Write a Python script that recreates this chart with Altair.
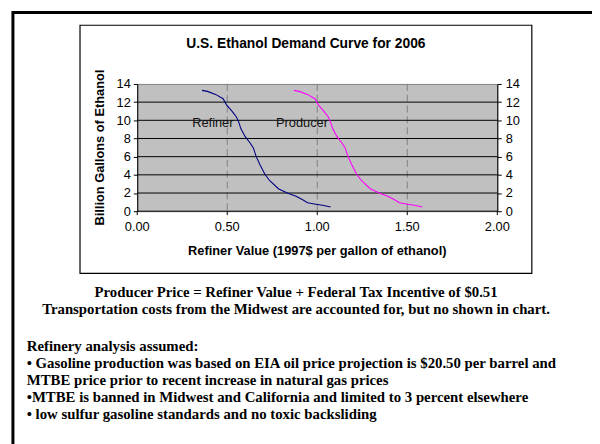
import altair as alt
import pandas as pd

# ---------------- data ----------------
refiner_x = [0.36, 0.39, 0.435, 0.477, 0.495, 0.526, 0.55, 0.563, 0.576, 0.599, 0.627, 0.645,
             0.66, 0.681, 0.709, 0.736, 0.786, 0.837, 0.882, 0.919, 0.946, 0.992, 1.029, 1.074]
refiner_y = [13.29, 13.18, 12.85, 12.38, 11.73, 11.0, 10.4, 9.86, 9.06, 8.23, 7.5, 6.96,
             6.06, 5.15, 4.07, 3.35, 2.45, 1.98, 1.65, 1.26, 0.94, 0.76, 0.65, 0.47]
producer_x = [0.87, 0.90, 0.945, 0.987, 1.005, 1.036, 1.06, 1.073, 1.086, 1.109, 1.137, 1.155,
              1.17, 1.191, 1.219, 1.246, 1.296, 1.347, 1.392, 1.429, 1.456, 1.502, 1.539, 1.584]
producer_y = [13.29, 13.18, 12.85, 12.38, 11.73, 11.0, 10.4, 9.86, 9.06, 8.23, 7.5, 6.96,
              6.06, 5.15, 4.07, 3.35, 2.45, 1.98, 1.65, 1.26, 0.94, 0.76, 0.65, 0.47]

series_names = ["Refiner", "Producer"]
series_colors = ["#000080", "#ff00ff"]
label_x = [0.42, 0.915]
label_y = [9.75, 9.75]

x_ticks = [0.0, 0.5, 1.0, 1.5, 2.0]
y_ticks = [0, 2, 4, 6, 8, 10, 12, 14]
x_grid = [0.5, 1.0, 1.5]
y_grid = [2, 4, 6, 8, 10, 12]

chart_title = "U.S. Ethanol Demand Curve for 2006"
y_title = "Billion Gallons of Ethanol"
x_title = "Refiner Value (1997$ per gallon of ethanol)"
note_center = [
    "Producer Price = Refiner Value + Federal Tax Incentive of $0.51",
    "Transportation costs from the Midwest are accounted for, but no shown in chart.",
]
note_left = [
    "Refinery analysis assumed:",
    "\u2022 Gasoline production was based on EIA oil price projection is $20.50 per barrel and",
    "MTBE price prior to recent increase in natural gas prices",
    "\u2022MTBE is banned in Midwest and California and limited to 3 percent elsewhere",
    "\u2022 low sulfur gasoline standards and no toxic backsliding",
]

# ---------------- build ----------------
SANS = "Liberation Sans"
SERIF = "Liberation Serif"
W, H = 365, 129

lines_df = pd.DataFrame({
    "series": [series_names[0]] * len(refiner_x) + [series_names[1]] * len(producer_x),
    "x": refiner_x + producer_x,
    "y": refiner_y + producer_y,
    "order": list(range(len(refiner_x))) + list(range(len(producer_x))),
})
labels_df = pd.DataFrame({"name": series_names, "x": label_x, "y": label_y})
xgrid_df = pd.DataFrame({"g": x_grid})
ygrid_df = pd.DataFrame({"g": y_grid})
xtick_df = pd.DataFrame({"t": x_ticks})
one = pd.DataFrame({"k": [0]})

xscale = alt.Scale(domain=[0, 2], nice=False, zero=False)
yscale = alt.Scale(domain=[0, 14], nice=False)

axis_style = dict(labelFont=SANS, labelFontSize=13, labelColor="black",
                  tickColor="black", domainColor="black", domainWidth=1, tickWidth=1,
                  tickSize=4, title=None, grid=False, values=y_ticks)
y_axis_left = alt.Axis(orient="left", labelPadding=3, **axis_style)
y_axis_right = alt.Axis(orient="right", labelPadding=4, **axis_style)

vgrid = alt.Chart(xgrid_df).mark_rule(color="#808080", strokeDash=[7, 4], strokeWidth=1).encode(
    x=alt.X("g:Q", scale=xscale, axis=None)
)
hgrid = alt.Chart(ygrid_df).mark_rule(color="black", strokeWidth=1).encode(
    y=alt.Y("g:Q", scale=yscale, axis=None)
)

lines = alt.Chart(lines_df).mark_line(strokeWidth=1.1).encode(
    x=alt.X("x:Q", scale=xscale, axis=None),
    y=alt.Y("y:Q", scale=yscale, axis=y_axis_left),
    color=alt.Color("series:N", scale=alt.Scale(domain=series_names, range=series_colors), legend=None),
    order="order:Q",
)

labels = alt.Chart(labels_df).mark_text(font=SANS, fontSize=13, color="#111111").encode(
    x=alt.X("x:Q", scale=xscale, axis=None),
    y=alt.Y("y:Q", scale=yscale, axis=y_axis_right),
    text="name:N",
)

# x axis drawn by hand from the tick list (through the x scale)
x_domain = alt.Chart(one).mark_rule(color="black", strokeWidth=1).encode(
    x=alt.value(0), x2=alt.value(W), y=alt.value(H)
)
x_tickmarks = alt.Chart(xtick_df).mark_rule(color="black", strokeWidth=1).encode(
    x=alt.X("t:Q", scale=xscale, axis=None), y=alt.value(H), y2=alt.value(H + 4)
)
x_ticklabels = alt.Chart(xtick_df).mark_text(font=SANS, fontSize=13, color="black", baseline="middle").encode(
    x=alt.X("t:Q", scale=xscale, axis=None), y=alt.value(H + 16),
    text=alt.Text("t:Q", format=".2f"),
)


def txt(s, x, y, size, weight="bold", font=SANS, align="center", angle=0):
    return alt.Chart(one).mark_text(
        text=s, fontSize=size, fontWeight=weight, font=font, align=align,
        baseline="middle", angle=angle, color="black"
    ).encode(x=alt.value(x), y=alt.value(y))


def box(x1, x2, y1, y2, sw):
    return alt.Chart(one).mark_rect(fillOpacity=0, stroke="black", strokeWidth=sw).encode(
        x=alt.value(x1), x2=alt.value(x2), y=alt.value(y1), y2=alt.value(y2)
    )


# view origin is page (139, 82)
deco = [
    box(-126, 500, -72.5, 500, 3),     # outer frame
    box(-58, 400, -59.5, 192, 1.2),    # chart box
    txt(chart_title, 171, -40, 14),
    txt(y_title, -38, 64.5, 13, angle=270),
    txt(x_title, 182.5, 169, 13),
]
note_y_center = [211, 228.5]
note_y_left = [266, 283, 300, 317, 335]
for s, yy in zip(note_center, note_y_center):
    deco.append(txt(s, 161, yy, 15, font=SERIF))
for s, yy in zip(note_left, note_y_left):
    deco.append(txt(s, -112, yy, 15, font=SERIF, align="left"))

chart = alt.layer(vgrid, hgrid, lines, labels, x_domain, x_tickmarks, x_ticklabels, *deco).resolve_axis(
    y="independent"
).properties(
    width=W, height=H,
    autosize=alt.AutoSizeParams(type="none"),
    padding={"left": 131, "top": 74, "right": 96, "bottom": 233},
).configure_view(
    fill="#c0c0c0", stroke="#808080"
)

chart.save("out.html", embed_options={"renderer": "svg", "actions": False})
